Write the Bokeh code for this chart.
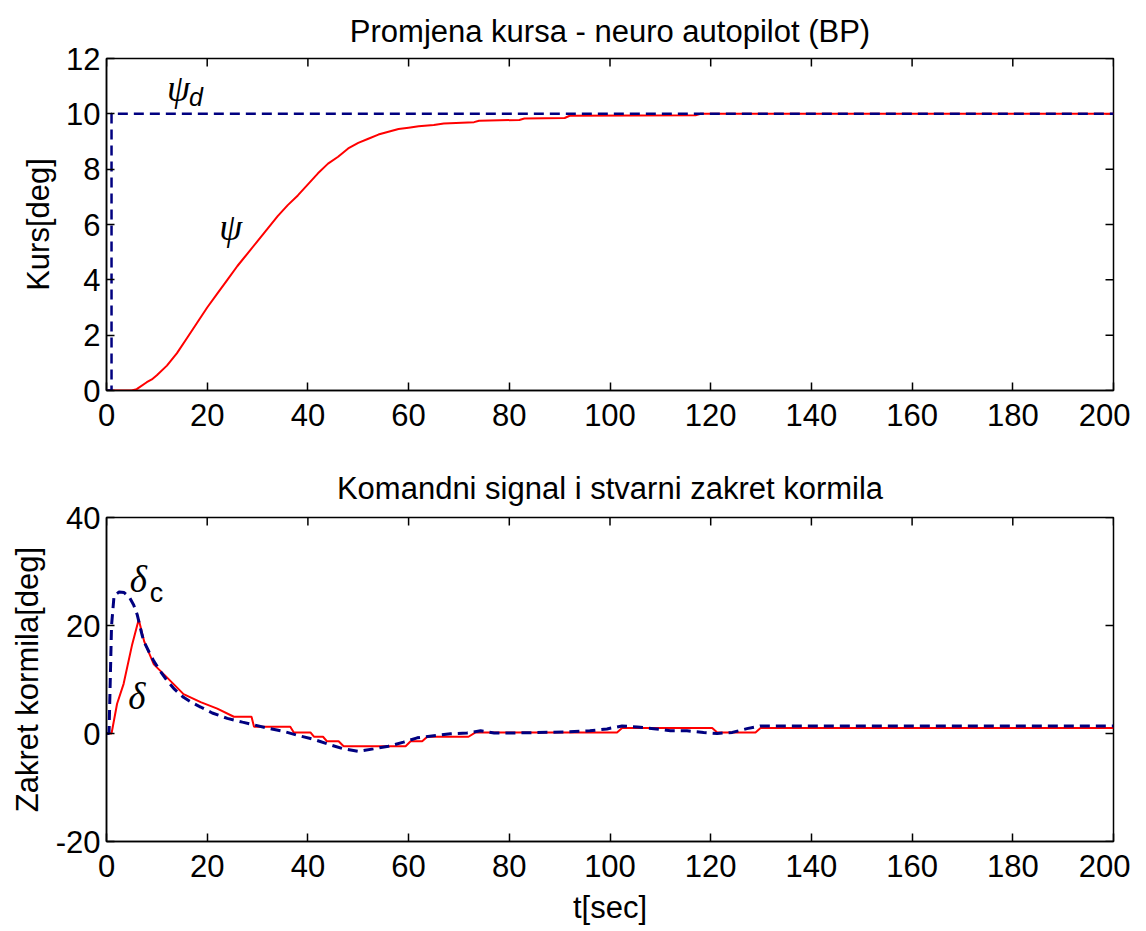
import math
from bokeh.plotting import figure
from bokeh.models import Range1d, FixedTicker
from bokeh.layouts import column
from bokeh.embed import file_html
from bokeh.resources import INLINE
from bokeh.core.properties import value

# ---------------- data ----------------
# top: heading (Kurs)
t_psi = [0, 5, 6, 8, 9, 10, 12, 14, 16, 18, 20, 22, 24, 26, 28, 30, 32, 34, 36,
         38, 40, 42, 44, 46, 48, 50, 52, 54, 56, 58, 60, 62, 65, 67, 73, 74, 82,
         83, 91, 92, 117, 118, 200]
psi = [0, 0, 0.05, 0.3, 0.4, 0.55, 0.9, 1.35, 1.9, 2.45, 3.0, 3.5, 4.0, 4.5,
       4.95, 5.4, 5.85, 6.3, 6.7, 7.05, 7.45, 7.85, 8.2, 8.45, 8.75, 8.95, 9.1,
       9.25, 9.35, 9.45, 9.5, 9.55, 9.6, 9.65, 9.7, 9.75, 9.78, 9.83, 9.85,
       9.93, 9.95, 10.0, 10.0]
t_psi_d = [0, 1, 1, 200]
psi_d = [0, 0, 10, 10]

# bottom: rudder command (delta_c) and actual rudder angle (delta)
t_delta_c = [0, 0.5, 1.0, 1.5, 2.5, 3.5, 4.5, 5.4, 6.1, 7.0, 7.4, 8.5, 9.4,
             10.5, 12, 13.5, 15.3, 17, 18.7, 21, 24, 27, 29.3, 32, 35.2, 38.2,
             41.2, 44.1, 47.1, 50, 53, 56, 59, 61.7, 65, 68.3, 71.6, 74.3, 77,
             80, 85, 91.5, 96, 99.4, 102.4, 105.4, 108.7, 112, 115.3, 118.6,
             121.3, 124.3, 127.2, 129.9, 200]
delta_c = [0, 0, 20, 25.5, 26.2, 26.1, 25.3, 23.8, 22.0, 18.5, 17.1, 15.0,
           13.4, 11.8, 9.8, 8.2, 6.7, 5.7, 4.9, 3.8, 2.8, 2.1, 1.6, 1.0, 0.4,
           -0.4, -1.1, -2.0, -2.85, -3.3, -2.85, -2.36, -1.6, -0.8, -0.4,
           -0.05, 0.1, 0.5, 0.1, 0.1, 0.15, 0.3, 0.5, 0.85, 1.4, 1.2, 0.9, 0.5,
           0.5, 0.2, 0.0, 0.2, 0.9, 1.4, 1.4]
t_delta = [0, 1, 2.1, 3.4, 5.1, 6.4, 7.5, 9.4, 12, 15.3, 18.7, 22, 25.3, 28.8,
           29.3, 36.5, 37.2, 40.5, 41.2, 43.0, 43.8, 46.1, 47.1, 59.4, 60.4,
           62.7, 63.7, 71.9, 73.3, 101.4, 102.4, 120.3, 121.3, 128.9, 129.9, 200]
delta = [0, 0, 5.5, 9.2, 16.5, 21.1, 17.0, 12.8, 10.4, 7.3, 5.8, 4.6, 3.1,
         3.1, 1.25, 1.25, 0.2, 0.2, -0.6, -0.6, -1.45, -1.45, -2.36, -2.36,
         -1.45, -1.45, -0.6, -0.6, 0.2, 0.2, 1.0, 1.0, 0.2, 0.2, 1.0, 1.0]

x_ticks = list(range(0, 201, 20))
y1_ticks = [0, 2, 4, 6, 8, 10, 12]
y2_ticks = [-20, 0, 20, 40]

title1 = "Promjena kursa - neuro autopilot (BP)"
title2 = "Komandni signal i stvarni zakret kormila"
ylabel1 = "Kurs[deg]"
ylabel2 = "Zakret kormila[deg]"
xlabel = "t[sec]"

FONT = "Liberation Sans"
SERIF = "Liberation Serif"
FS = "31px"
RED = "#ff0000"
NAVY = "#000080"
X_RANGE = (0, 200)


def make_fig(title, ylab, yr, yticks, height, top, bottom, ylab_standoff,
             title_standoff, xlab=None):
    p = figure(width=1130, height=height, output_backend="svg",
               toolbar_location=None, title=title,
               x_range=Range1d(*X_RANGE), y_range=Range1d(*yr),
               min_border_left=106, min_border_right=17,
               min_border_top=top, min_border_bottom=bottom)
    p.title.align = "center"
    p.title.text_font = FONT
    p.title.text_font_size = FS
    p.title.text_font_style = "normal"
    p.title.text_color = "black"
    p.title.standoff = title_standoff
    p.xgrid.visible = False
    p.ygrid.visible = False
    p.outline_line_color = "black"
    p.outline_line_width = 1.5
    p.background_fill_color = "white"
    p.border_fill_color = "white"

    ax_below = p.below[0]
    ax_left = p.left[0]
    ax_below.ticker = FixedTicker(ticks=x_ticks)
    ax_left.ticker = FixedTicker(ticks=yticks)
    ax_left.major_label_overrides = {v: str(v) for v in yticks}

    for ax in [ax_below, ax_left]:
        ax.major_tick_in = 8
        ax.major_tick_out = 0
        ax.minor_tick_in = 0
        ax.minor_tick_out = 0
        ax.axis_line_color = "black"
        ax.axis_line_width = 1.5
        ax.major_tick_line_width = 1.5
        ax.major_tick_line_color = "black"
        ax.major_label_text_font = FONT
        ax.major_label_text_font_size = FS
        ax.major_label_text_color = "black"
        ax.axis_label_text_font = FONT
        ax.axis_label_text_font_size = FS
        ax.axis_label_text_font_style = "normal"
        ax.axis_label_text_color = "black"

    ax_below.major_label_standoff = 13
    ax_left.major_label_standoff = 6
    ax_left.axis_label = ylab
    ax_left.axis_label_standoff = ylab_standoff
    if xlab:
        ax_below.axis_label = xlab
        ax_below.axis_label_standoff = 10

    # MATLAB-style box ticks on top and right edges (clipped to the frame)
    p.scatter(x=x_ticks, y=[yr[1]] * len(x_ticks), marker="dash", size=16,
              angle=math.pi / 2, line_color="black", line_width=1.5)
    p.scatter(x=[X_RANGE[1]] * len(yticks), y=yticks, marker="dash", size=16,
              line_color="black", line_width=1.5)
    return p


# ---------- top figure ----------
p1 = make_fig(title1, ylabel1, (0, 12), y1_ticks, 452, 58, 62, 7, 20)
p1.line(t_psi, psi, line_color=RED, line_width=2)
p1.line(t_psi_d, psi_d, line_color=NAVY, line_width=2.5, line_dash="10 6")
p1.text(x=[12.0], y=[10.9], text=["ψ"], text_font=value(SERIF),
        text_font_style="italic", text_font_size="37px", text_baseline="middle",
        text_align="left", text_color="black")
p1.text(x=[16.4], y=[10.6], text=["d"], text_font=value(FONT),
        text_font_style="italic", text_font_size="25px", text_baseline="middle",
        text_align="left", text_color="black")
p1.text(x=[22.4], y=[5.9], text=["ψ"], text_font=value(SERIF),
        text_font_style="italic", text_font_size="37px", text_baseline="middle",
        text_align="left", text_color="black")

# ---------- bottom figure ----------
p2 = make_fig(title2, ylabel2, (-20, 40), y2_ticks, 475, 65, 80, 8, 24,
              xlab=xlabel)
p2.line(t_delta, delta, line_color=RED, line_width=2)
p2.line(t_delta_c, delta_c, line_color=NAVY, line_width=3, line_dash="10 6")
p2.text(x=[4.6], y=[28.6], text=["δ"], text_font=value(SERIF),
        text_font_style="italic", text_font_size="37px", text_baseline="middle",
        text_align="left", text_color="black")
p2.text(x=[8.6], y=[26.0], text=["c"], text_font=value(FONT),
        text_font_style="normal", text_font_size="27px", text_baseline="middle",
        text_align="left", text_color="black")
p2.text(x=[4.3], y=[6.8], text=["δ"], text_font=value(SERIF),
        text_font_style="italic", text_font_size="37px", text_baseline="middle",
        text_align="left", text_color="black")

layout = column(p1, p2, spacing=0)
open("out.html", "w").write(file_html(layout, INLINE))
